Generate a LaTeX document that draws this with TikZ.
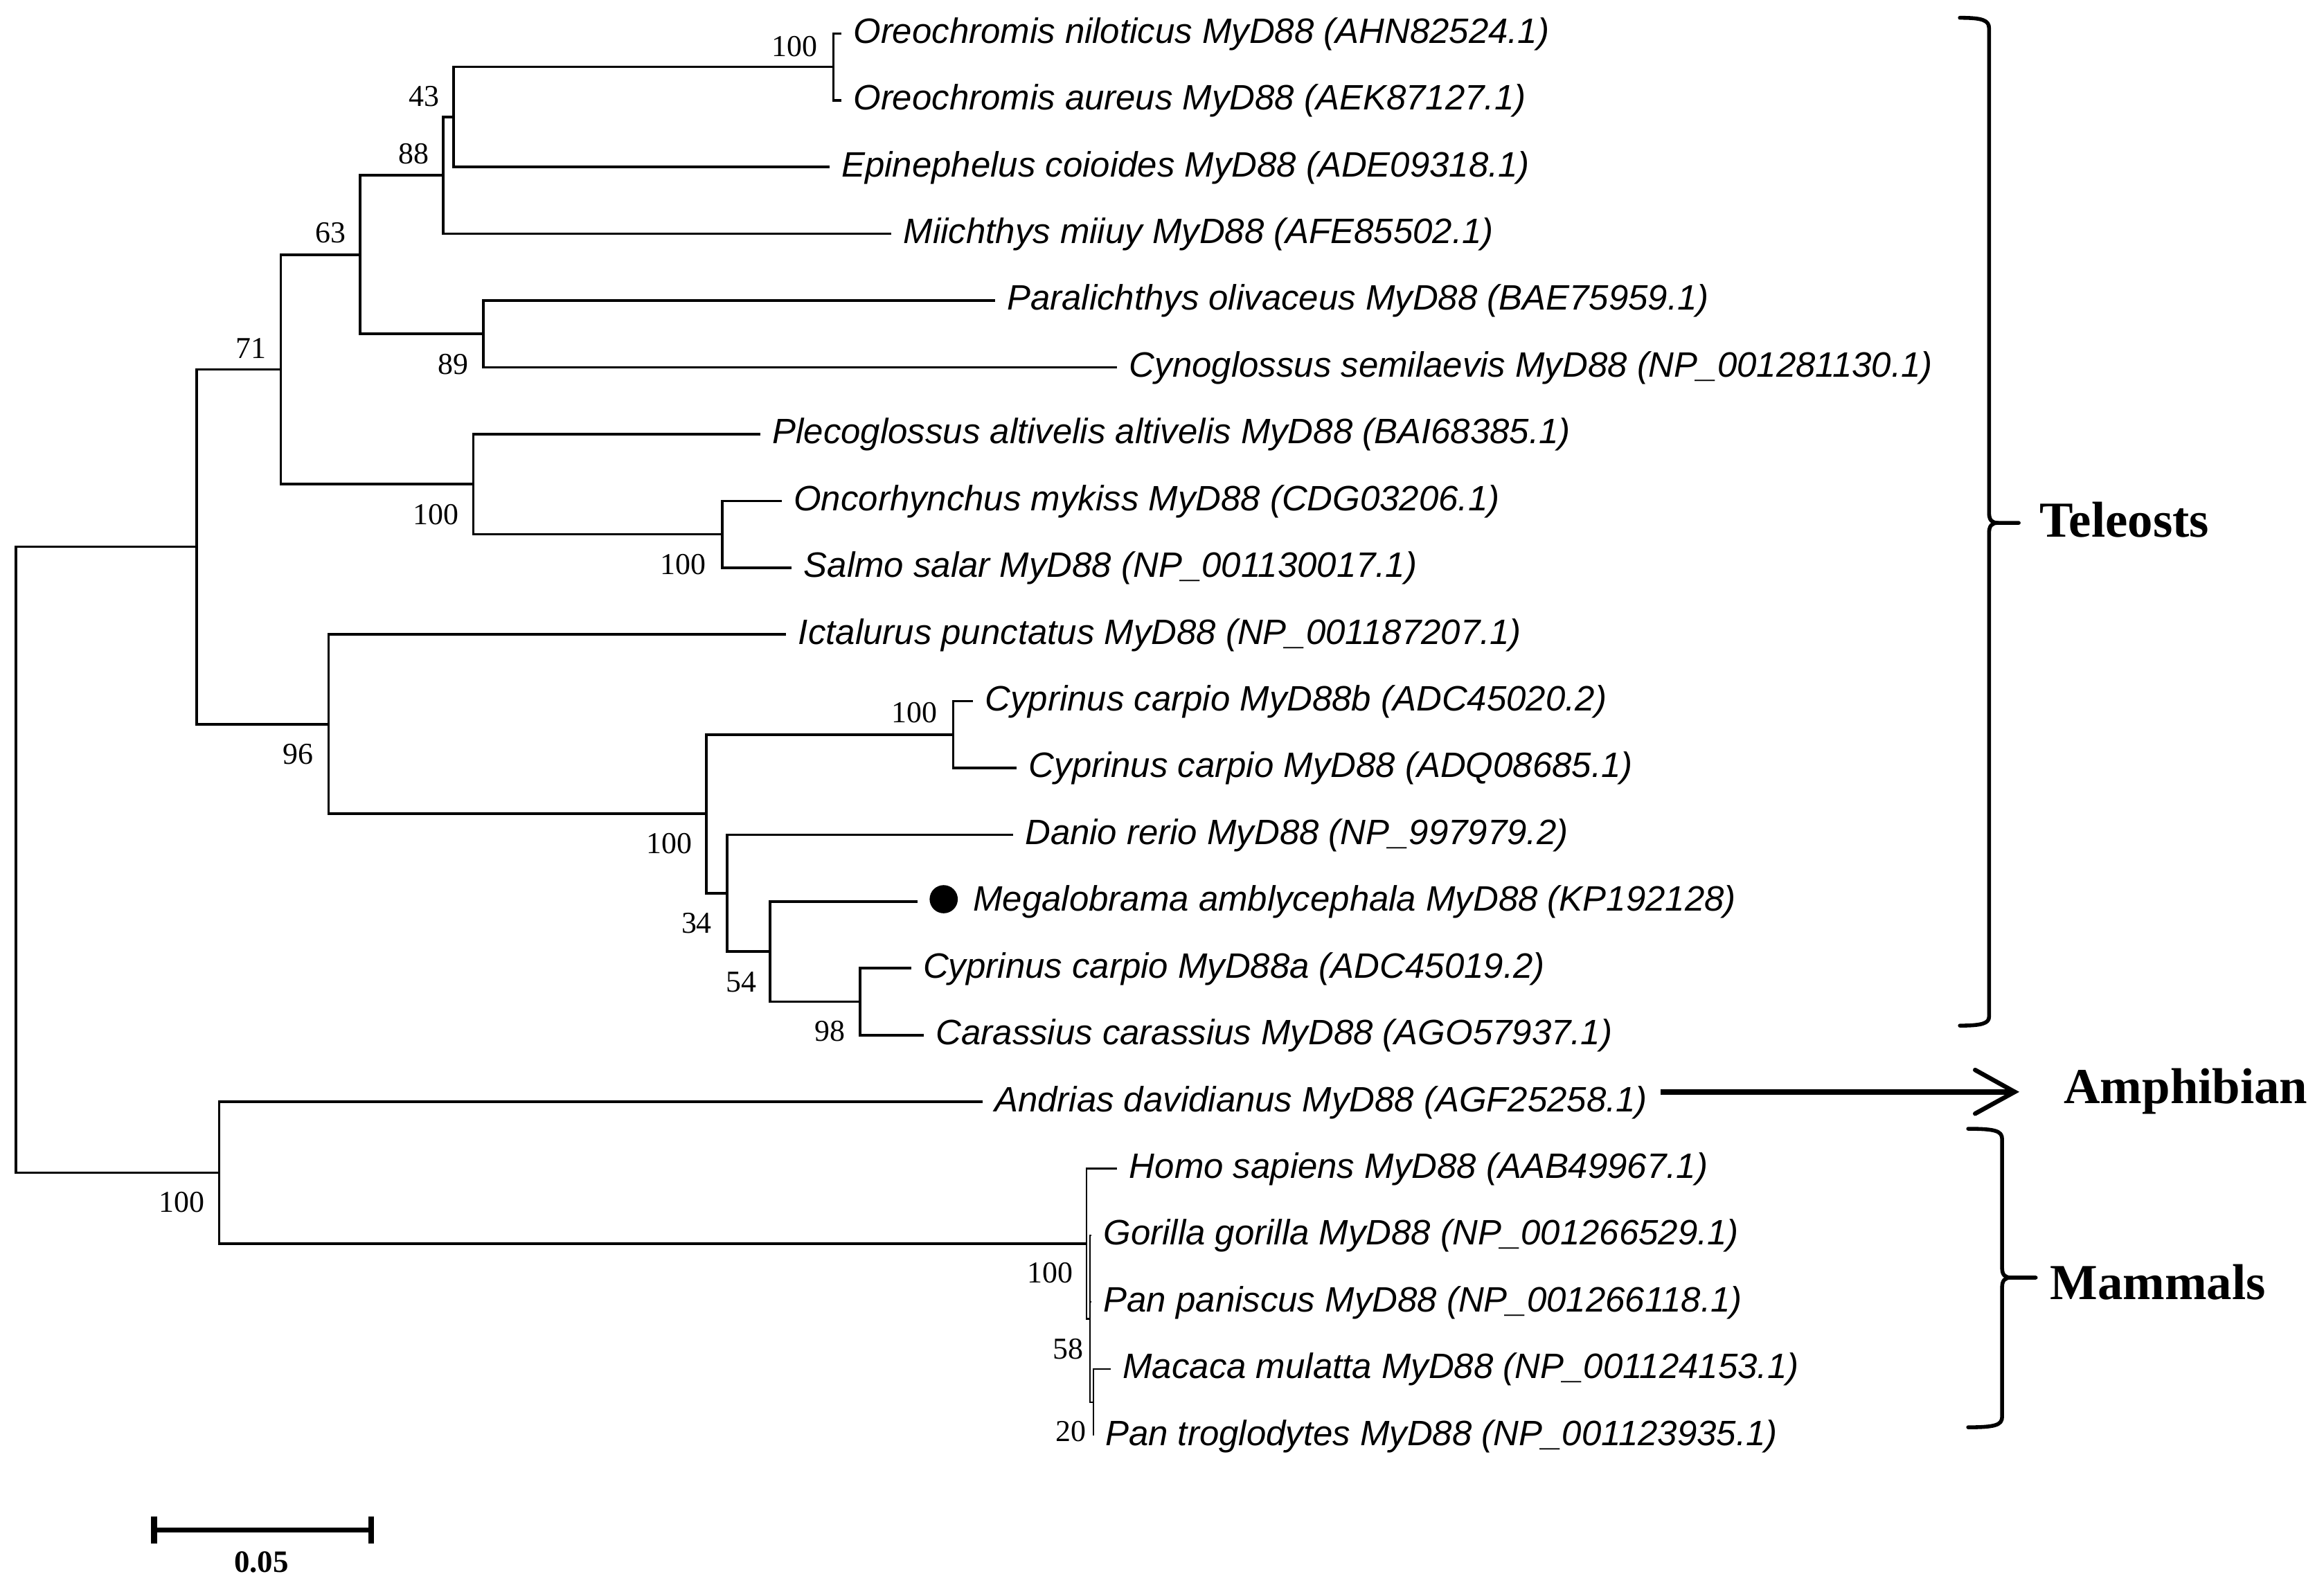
\documentclass[tikz,border=0pt]{standalone}
\usepackage{fontspec}
\setmainfont{Liberation Serif}
\newfontfamily\labfont{Liberation Sans}
\begin{document}
\begin{tikzpicture}[x=1pt,y=-1pt,
  br/.style={line width=1.7pt, line join=miter},
  brthin/.style={line width=1.0pt},
  tiplab/.style={anchor=base west, inner sep=0pt, font=\labfont\itshape\fontsize{23.8}{28}\selectfont},
  boot/.style={inner sep=0pt, font=\fontsize{20.5}{24}\selectfont},
  clade/.style={anchor=base west, inner sep=0pt, font=\bfseries\fontsize{34}{40}\selectfont},
  bracepath/.style={line width=2.6pt, line join=round, line cap=round},
  lbl/.style={xshift=8pt, yshift=-6.5pt}
]
\useasboundingbox (0,0) rectangle (1568,1068);
% tips
\coordinate (t0) at (567.6,22.6);
\coordinate (t1) at (567.6,67.65);
\coordinate (t2) at (559.6,112.7);
\coordinate (t3) at (601.4,157.75);
\coordinate (t4) at (671.2,202.8);
\coordinate (t5) at (753.8,247.85);
\coordinate (t6) at (513,292.9);
\coordinate (t7) at (527.4,337.95);
\coordinate (t8) at (534.2,383.0);
\coordinate (t9) at (530.5,428.05);
\coordinate (t10) at (656.5,473.1);
\coordinate (t11) at (686,518.15);
\coordinate (t12) at (683.4,563.2);
\coordinate (t13) at (619,608.25);
\coordinate (t14) at (614.7,653.3);
\coordinate (t15) at (623.3,698.35);
\coordinate (t16) at (662.8,743.4);
\coordinate (t17) at (753.8,788.45);
\coordinate (t18) at (736.4,833.5);
\coordinate (t19) at (736.4,878.55);
\coordinate (t20) at (749.4,923.6);
\coordinate (t21) at (737.6,968.65);
% internal nodes
\coordinate (nO) at (562.3,45.125);
\coordinate (n43) at (306,78.9);
\coordinate (n88) at (299,118.33);
\coordinate (n89) at (326,225.33);
\coordinate (n63) at (243,171.83);
\coordinate (nSal) at (487.3,360.48);
\coordinate (nPl) at (319.3,326.69);
\coordinate (n71) at (189.5,249.26);
\coordinate (nCb) at (643.1,495.63);
\coordinate (n98) at (580.4,675.83);
\coordinate (n54) at (519.5,642.04);
\coordinate (n34) at (490.7,602.62);
\coordinate (nCy) at (476.7,549.12);
\coordinate (n96) at (221.7,488.59);
\coordinate (nT) at (132.6,368.92);
\coordinate (nW) at (737.6,946.13);
\coordinate (nX) at (735.4,889.8);
\coordinate (nMam) at (733.2,839.1);
\coordinate (nAM) at (147.8,791.25);
\coordinate (root) at (10.8,580.1);
% branches
\draw[br] (nO) |- (t0);  \draw[br] (nO) |- (t1);
\draw[br] (n43) |- (nO); \draw[br] (n43) |- (t2);
\draw[br] (n88) |- (n43); \draw[br] (n88) |- (t3);
\draw[br] (n89) |- (t4); \draw[br] (n89) |- (t5);
\draw[br] (n63) |- (n88); \draw[br] (n63) |- (n89);
\draw[br] (nSal) |- (t7); \draw[br] (nSal) |- (t8);
\draw[br] (nPl) |- (t6); \draw[br] (nPl) |- (nSal);
\draw[br] (n71) |- (n63); \draw[br] (n71) |- (nPl);
\draw[br] (nCb) |- (t10); \draw[br] (nCb) |- (t11);
\draw[br] (n98) |- (t14); \draw[br] (n98) |- (t15);
\draw[br] (n54) |- (t13); \draw[br] (n54) |- (n98);
\draw[br] (n34) |- (t12); \draw[br] (n34) |- (n54);
\draw[br] (nCy) |- (nCb); \draw[br] (nCy) |- (n34);
\draw[br] (n96) |- (t9); \draw[br] (n96) |- (nCy);
\draw[br] (nT) |- (n71); \draw[br] (nT) |- (n96);
\draw[br] (nAM) |- (t16); \draw[br] (nAM) |- (nMam);
\draw[br] (root) |- (nT); \draw[br] (root) |- (nAM);
\draw[brthin] (nMam) |- (t17); \draw[brthin] (nMam) |- (nX);
\draw[brthin] (nX) |- (t18); \draw[brthin] (nX) |- (t19); \draw[brthin] (nX) |- (nW);
\draw[brthin] (nW) |- (t20); \draw[brthin] (nW) |- (t21);
% tip labels
\node[tiplab] (l0) at ([lbl]t0) {Oreochromis niloticus MyD88 (AHN82524.1)};
\node[tiplab] (l1) at ([lbl]t1) {Oreochromis aureus MyD88 (AEK87127.1)};
\node[tiplab] (l2) at ([lbl]t2) {Epinephelus coioides MyD88 (ADE09318.1)};
\node[tiplab] (l3) at ([lbl]t3) {Miichthys miiuy MyD88 (AFE85502.1)};
\node[tiplab] (l4) at ([lbl]t4) {Paralichthys olivaceus MyD88 (BAE75959.1)};
\node[tiplab] (l5) at ([lbl]t5) {Cynoglossus semilaevis MyD88 (NP\_001281130.1)};
\node[tiplab] (l6) at ([lbl]t6) {Plecoglossus altivelis altivelis MyD88 (BAI68385.1)};
\node[tiplab] (l7) at ([lbl]t7) {Oncorhynchus mykiss MyD88 (CDG03206.1)};
\node[tiplab] (l8) at ([lbl]t8) {Salmo salar MyD88 (NP\_001130017.1)};
\node[tiplab] (l9) at ([lbl]t9) {Ictalurus punctatus MyD88 (NP\_001187207.1)};
\node[tiplab] (l10) at ([lbl]t10) {Cyprinus carpio MyD88b (ADC45020.2)};
\node[tiplab] (l11) at ([lbl]t11) {Cyprinus carpio MyD88 (ADQ08685.1)};
\node[tiplab] (l12) at ([lbl]t12) {Danio rerio MyD88 (NP\_997979.2)};
\fill (636.7,606.7) circle (9.5pt);
\node[tiplab] (l13) at ([xshift=37.5pt,yshift=-6.5pt]t13) {Megalobrama amblycephala MyD88 (KP192128)};
\node[tiplab] (l14) at ([lbl]t14) {Cyprinus carpio MyD88a (ADC45019.2)};
\node[tiplab] (l15) at ([lbl]t15) {Carassius carassius MyD88 (AGO57937.1)};
\node[tiplab] (l16) at ([lbl]t16) {Andrias davidianus MyD88 (AGF25258.1)};
\node[tiplab] (l17) at ([lbl]t17) {Homo sapiens MyD88 (AAB49967.1)};
\node[tiplab] (l18) at ([lbl]t18) {Gorilla gorilla MyD88 (NP\_001266529.1)};
\node[tiplab] (l19) at ([lbl]t19) {Pan paniscus MyD88 (NP\_001266118.1)};
\node[tiplab] (l20) at ([lbl]t20) {Macaca mulatta MyD88 (NP\_001124153.1)};
\node[tiplab] (l21) at ([lbl]t21) {Pan troglodytes MyD88 (NP\_001123935.1)};
% bootstrap values
\node[boot] (b1) at (536,31.5) {100};
\node[boot] (b2) at (286,65) {43};
\node[boot] (b3) at (279,104) {88};
\node[boot] (b4) at (223,157) {63};
\node[boot] (b5) at (305.7,246) {89};
\node[boot] (b6) at (169.5,235) {71};
\node[boot] (b7) at (294,347) {100};
\node[boot] (b8) at (461,381) {100};
\node[boot] (b9) at (201,509) {96};
\node[boot] (b10) at (617,480.7) {100};
\node[boot] (b11) at (451.5,569) {100};
\node[boot] (b12) at (470,623) {34};
\node[boot] (b13) at (500,662.6) {54};
\node[boot] (b14) at (560,695.8) {98};
\node[boot] (b15) at (122.5,811) {100};
\node[boot] (b16) at (708.5,859) {100};
\node[boot] (b17) at (720.7,910) {58};
\node[boot] (b18) at (722.6,965.6) {20};
% braces
\draw[bracepath] (1322.3,12) .. controls (1337,12) and (1342,13.5) .. (1342,19)
  -- (1342,346) .. controls (1342,351) and (1344,352.8) .. (1348,352.8) -- (1362,352.8);
\draw[bracepath] (1348,352.8) .. controls (1344,352.8) and (1342,354.6) .. (1342,359.6)
  -- (1342,686) .. controls (1342,690.5) and (1337,692) .. (1322.3,692);
\draw[bracepath] (1327.9,761.6) .. controls (1346,761.6) and (1350.8,763) .. (1350.8,768.5)
  -- (1350.8,855.5) .. controls (1350.8,860.2) and (1352.8,862) .. (1356.8,862) -- (1373.5,862);
\draw[bracepath] (1356.8,862) .. controls (1352.8,862) and (1350.8,863.8) .. (1350.8,868.5)
  -- (1350.8,956) .. controls (1350.8,961.5) and (1346,963) .. (1327.9,963);
\node[clade] (teleo) at (1376.2,362.1) {Teleosts};
\node[clade] (mamm) at (1383,876.6) {Mammals};
\node[clade] (amph) at (1392.3,744.4) {Amphibian};
% arrow
\coordinate (arrS) at (1120.2,736.7);
\coordinate (arrE) at (1359.3,736.7);
\draw[line width=3.7pt] (arrS) -- ([xshift=-2pt]arrE);
\draw[line width=3pt, line join=miter, line cap=round] (1332.6,721.9) -- (arrE) -- (1332.6,751.4);
% scale bar
\coordinate (sbL) at (103.9,1032.3);
\coordinate (sbR) at (250.4,1032.3);
\draw[line width=3.7pt] (sbL) -- (sbR);
\draw[line width=3.9pt] ([yshift=9.1pt]sbL) -- ([yshift=-9.3pt]sbL);
\draw[line width=3.9pt] ([yshift=9.1pt]sbR) -- ([yshift=-9.3pt]sbR);
\node[boot, font=\bfseries\fontsize{21}{24}\selectfont] (sbt) at (176.4,1054) {0.05};
\end{tikzpicture}
\end{document}
